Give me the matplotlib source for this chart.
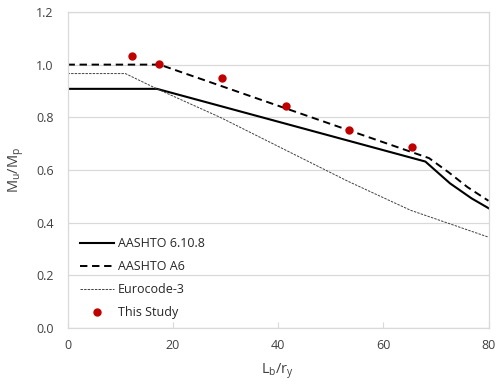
import numpy as np
import matplotlib
matplotlib.use('Agg')
import matplotlib.pyplot as plt

# data
aashto_x = [0, 17.0, 68.0, 72.7, 76.8, 80]
aashto_y = [0.908, 0.908, 0.632, 0.549, 0.492, 0.455]

a6_x = [0, 17.5, 68.7, 72.5, 76.0, 80]
a6_y = [1.0, 1.0, 0.645, 0.590, 0.535, 0.483]

euro_x = [0, 11.0, 17.0, 29.0, 41.8, 53.2, 61.4, 65.2, 80]
euro_y = [0.966, 0.966, 0.908, 0.800, 0.672, 0.558, 0.482, 0.447, 0.345]

study_x = [12.2, 17.3, 29.3, 41.5, 53.4, 65.5]
study_y = [1.033, 1.004, 0.949, 0.843, 0.753, 0.689]

plt.rcParams['font.family'] = ['Open Sans', 'DejaVu Sans']
plt.rcParams['mathtext.fontset'] = 'custom'
plt.rcParams['mathtext.rm'] = 'Open Sans'
plt.rcParams['mathtext.default'] = 'regular'

fig = plt.figure(figsize=(5, 3.85), dpi=100)
ax = fig.add_axes([0.135, 0.148, 0.842, 0.821])

grey = '#d9d9d9'
ax.plot(aashto_x, aashto_y, color='black', lw=1.5, label='AASHTO 6.10.8')
ax.plot(a6_x, a6_y, color='black', lw=1.4, dashes=(3.8, 2.4), label='AASHTO A6')
ax.plot(euro_x, euro_y, color='#404040', lw=0.7, dashes=(2.5, 1.2), label='Eurocode-3')
ax.plot(study_x, study_y, 'o', color='#c00000', ms=5, label='This Study', zorder=5)

ax.set_xlim(0, 80)
ax.set_ylim(0, 1.2)
ax.set_xticks(np.arange(0, 81, 20))
ax.set_yticks(np.arange(0, 1.21, 0.2))
ax.yaxis.set_major_formatter(matplotlib.ticker.FormatStrFormatter('%.1f'))
ax.grid(axis='y', color=grey, lw=0.9)
ax.set_axisbelow(True)
for s in ax.spines.values():
    s.set_color(grey)
    s.set_linewidth(0.9)
ax.tick_params(axis='x', direction='in', length=4, color=grey, colors='#404040', labelsize=9, pad=8)
ax.tick_params(axis='x', color=grey)
ax.tick_params(axis='y', length=0, colors='#404040', labelsize=9, pad=10)

ax.set_xlabel('L$_b$/r$_y$', fontsize=10.5, color='#404040', labelpad=7)
ax.set_ylabel('M$_u$/M$_p$', fontsize=10.5, color='#404040', labelpad=7)

leg = ax.legend(loc='lower left', frameon=False, fontsize=9, handlelength=2.7,
                handletextpad=0.3, labelspacing=0.8, borderaxespad=0.3,
                bbox_to_anchor=(0.01, 0.0))
for t in leg.get_texts():
    t.set_color('#262626')

fig.savefig('out.png', dpi=100)
